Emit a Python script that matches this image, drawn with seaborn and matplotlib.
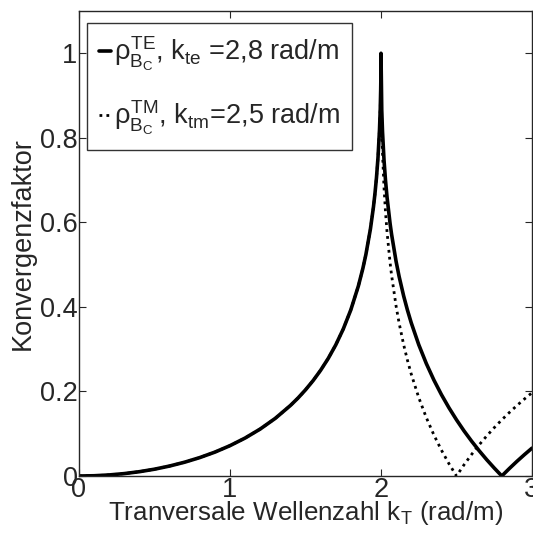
import numpy as np
import pandas as pd
import matplotlib
matplotlib.use('Agg')
import matplotlib.pyplot as plt
import seaborn as sns

# values
# left of k_T = 2 both curves coincide
kt_left = [0.0, 0.1, 0.2, 0.3, 0.4, 0.5, 0.6, 0.7, 0.8, 0.9, 1.0, 1.1, 1.2,
           1.3, 1.4, 1.45, 1.5, 1.55, 1.6, 1.65, 1.7, 1.75, 1.8, 1.85, 1.88,
           1.9, 1.93, 1.95, 1.96, 1.97, 1.98, 1.99, 1.995, 1.998, 1.999, 2.0]
rho_left = [0.0, 0.0006, 0.0025, 0.0057, 0.0102, 0.0161, 0.0236, 0.0327,
            0.0436, 0.0565, 0.0718, 0.0898, 0.1111, 0.1364, 0.1668, 0.1843,
            0.2038, 0.2255, 0.25, 0.2778, 0.3099, 0.3476, 0.3929, 0.4493,
            0.4912, 0.5241, 0.5845, 0.6364, 0.6681, 0.7057, 0.7528, 0.8184,
            0.868, 0.9144, 0.9387, 1.0]

kt_right = [2.005, 2.01, 2.02, 2.03, 2.04, 2.06, 2.07, 2.1, 2.12, 2.15,
            2.175, 2.2, 2.25, 2.3, 2.35, 2.4, 2.45, 2.5, 2.55, 2.6, 2.65,
            2.7, 2.75, 2.8, 2.85, 2.9, 2.95, 3.0]
rho_te_right = [0.8653, 0.8146, 0.7472, 0.6986, 0.6596, 0.5976, 0.5719,
                0.5074, 0.4719, 0.4259, 0.3926, 0.3627, 0.3106, 0.2661,
                0.2272, 0.1926, 0.1614, 0.1329, 0.1066, 0.0824, 0.0598,
                0.0386, 0.0188, 0.0, 0.0177, 0.0346, 0.0506, 0.0659]
rho_tm_right = [0.8276, 0.7645, 0.682, 0.6236, 0.5773, 0.5049, 0.4751,
                0.4017, 0.3617, 0.3106, 0.274, 0.2415, 0.1854, 0.1382,
                0.0973, 0.0613, 0.0291, 0.0, 0.0266, 0.051, 0.0737, 0.0947,
                0.1144, 0.1329, 0.1502, 0.1667, 0.1822, 0.197]

labels = [r'$\rho_{B_C}^{TE}$, k$_{te}$ =2,8 rad/m',
          r'$\rho_{B_C}^{TM}$, k$_{tm}$=2,5 rad/m']

sns.set_style('ticks')
plt.rcParams['font.family'] = ['Liberation Sans', 'DejaVu Sans']
plt.rcParams['mathtext.fontset'] = 'custom'
plt.rcParams['mathtext.rm'] = 'Liberation Sans'
plt.rcParams['mathtext.it'] = 'Liberation Sans'
plt.rcParams['mathtext.bf'] = 'Liberation Sans:bold'

te = pd.DataFrame({'kt': kt_left + kt_right, 'rho': rho_left + rho_te_right})
tm = pd.DataFrame({'kt': kt_left + kt_right, 'rho': rho_left + rho_tm_right})

fig = plt.figure(figsize=(5.33, 5.38), dpi=100)
ax = fig.add_axes([79 / 533, 62 / 538, 453 / 533, 465 / 538])

sns.lineplot(data=te, x='kt', y='rho', ax=ax, color='black', lw=2.6,
             label=labels[0])
sns.lineplot(data=tm, x='kt', y='rho', ax=ax, color='black', lw=2.0,
             linestyle=(0, (1, 1.5)), label=labels[1])

ax.set_xlim(0, 3)
ax.set_ylim(0, 1.1)
ax.set_xticks([0, 1, 2, 3])
ax.set_xticklabels(['0', '1', '2', '3'])
ax.set_yticks([0, 0.2, 0.4, 0.6, 0.8, 1.0])
ax.set_yticklabels(['0', '0.2', '0.4', '0.6', '0.8', '1'])
ax.tick_params(direction='in', length=5, width=0.8, labelsize=19.5,
               top=True, right=True, pad=1)
for s in ax.spines.values():
    s.set_linewidth(1.0)
    s.set_visible(True)

ax.set_xlabel(r'Tranversale Wellenzahl k$_T$ (rad/m)', fontsize=18.7,
              labelpad=-3)
ax.set_ylabel('Konvergenzfaktor', fontsize=19.5, labelpad=3)

leg = ax.legend(loc='upper left', fontsize=19.5, handlelength=0.45,
                handletextpad=0.1, borderpad=0.45, labelspacing=0.95,
                frameon=True, fancybox=False, edgecolor='black',
                bbox_to_anchor=(0.017, 0.975), borderaxespad=0)
leg.get_frame().set_linewidth(1.0)

fig.savefig('out.png', dpi=100)
